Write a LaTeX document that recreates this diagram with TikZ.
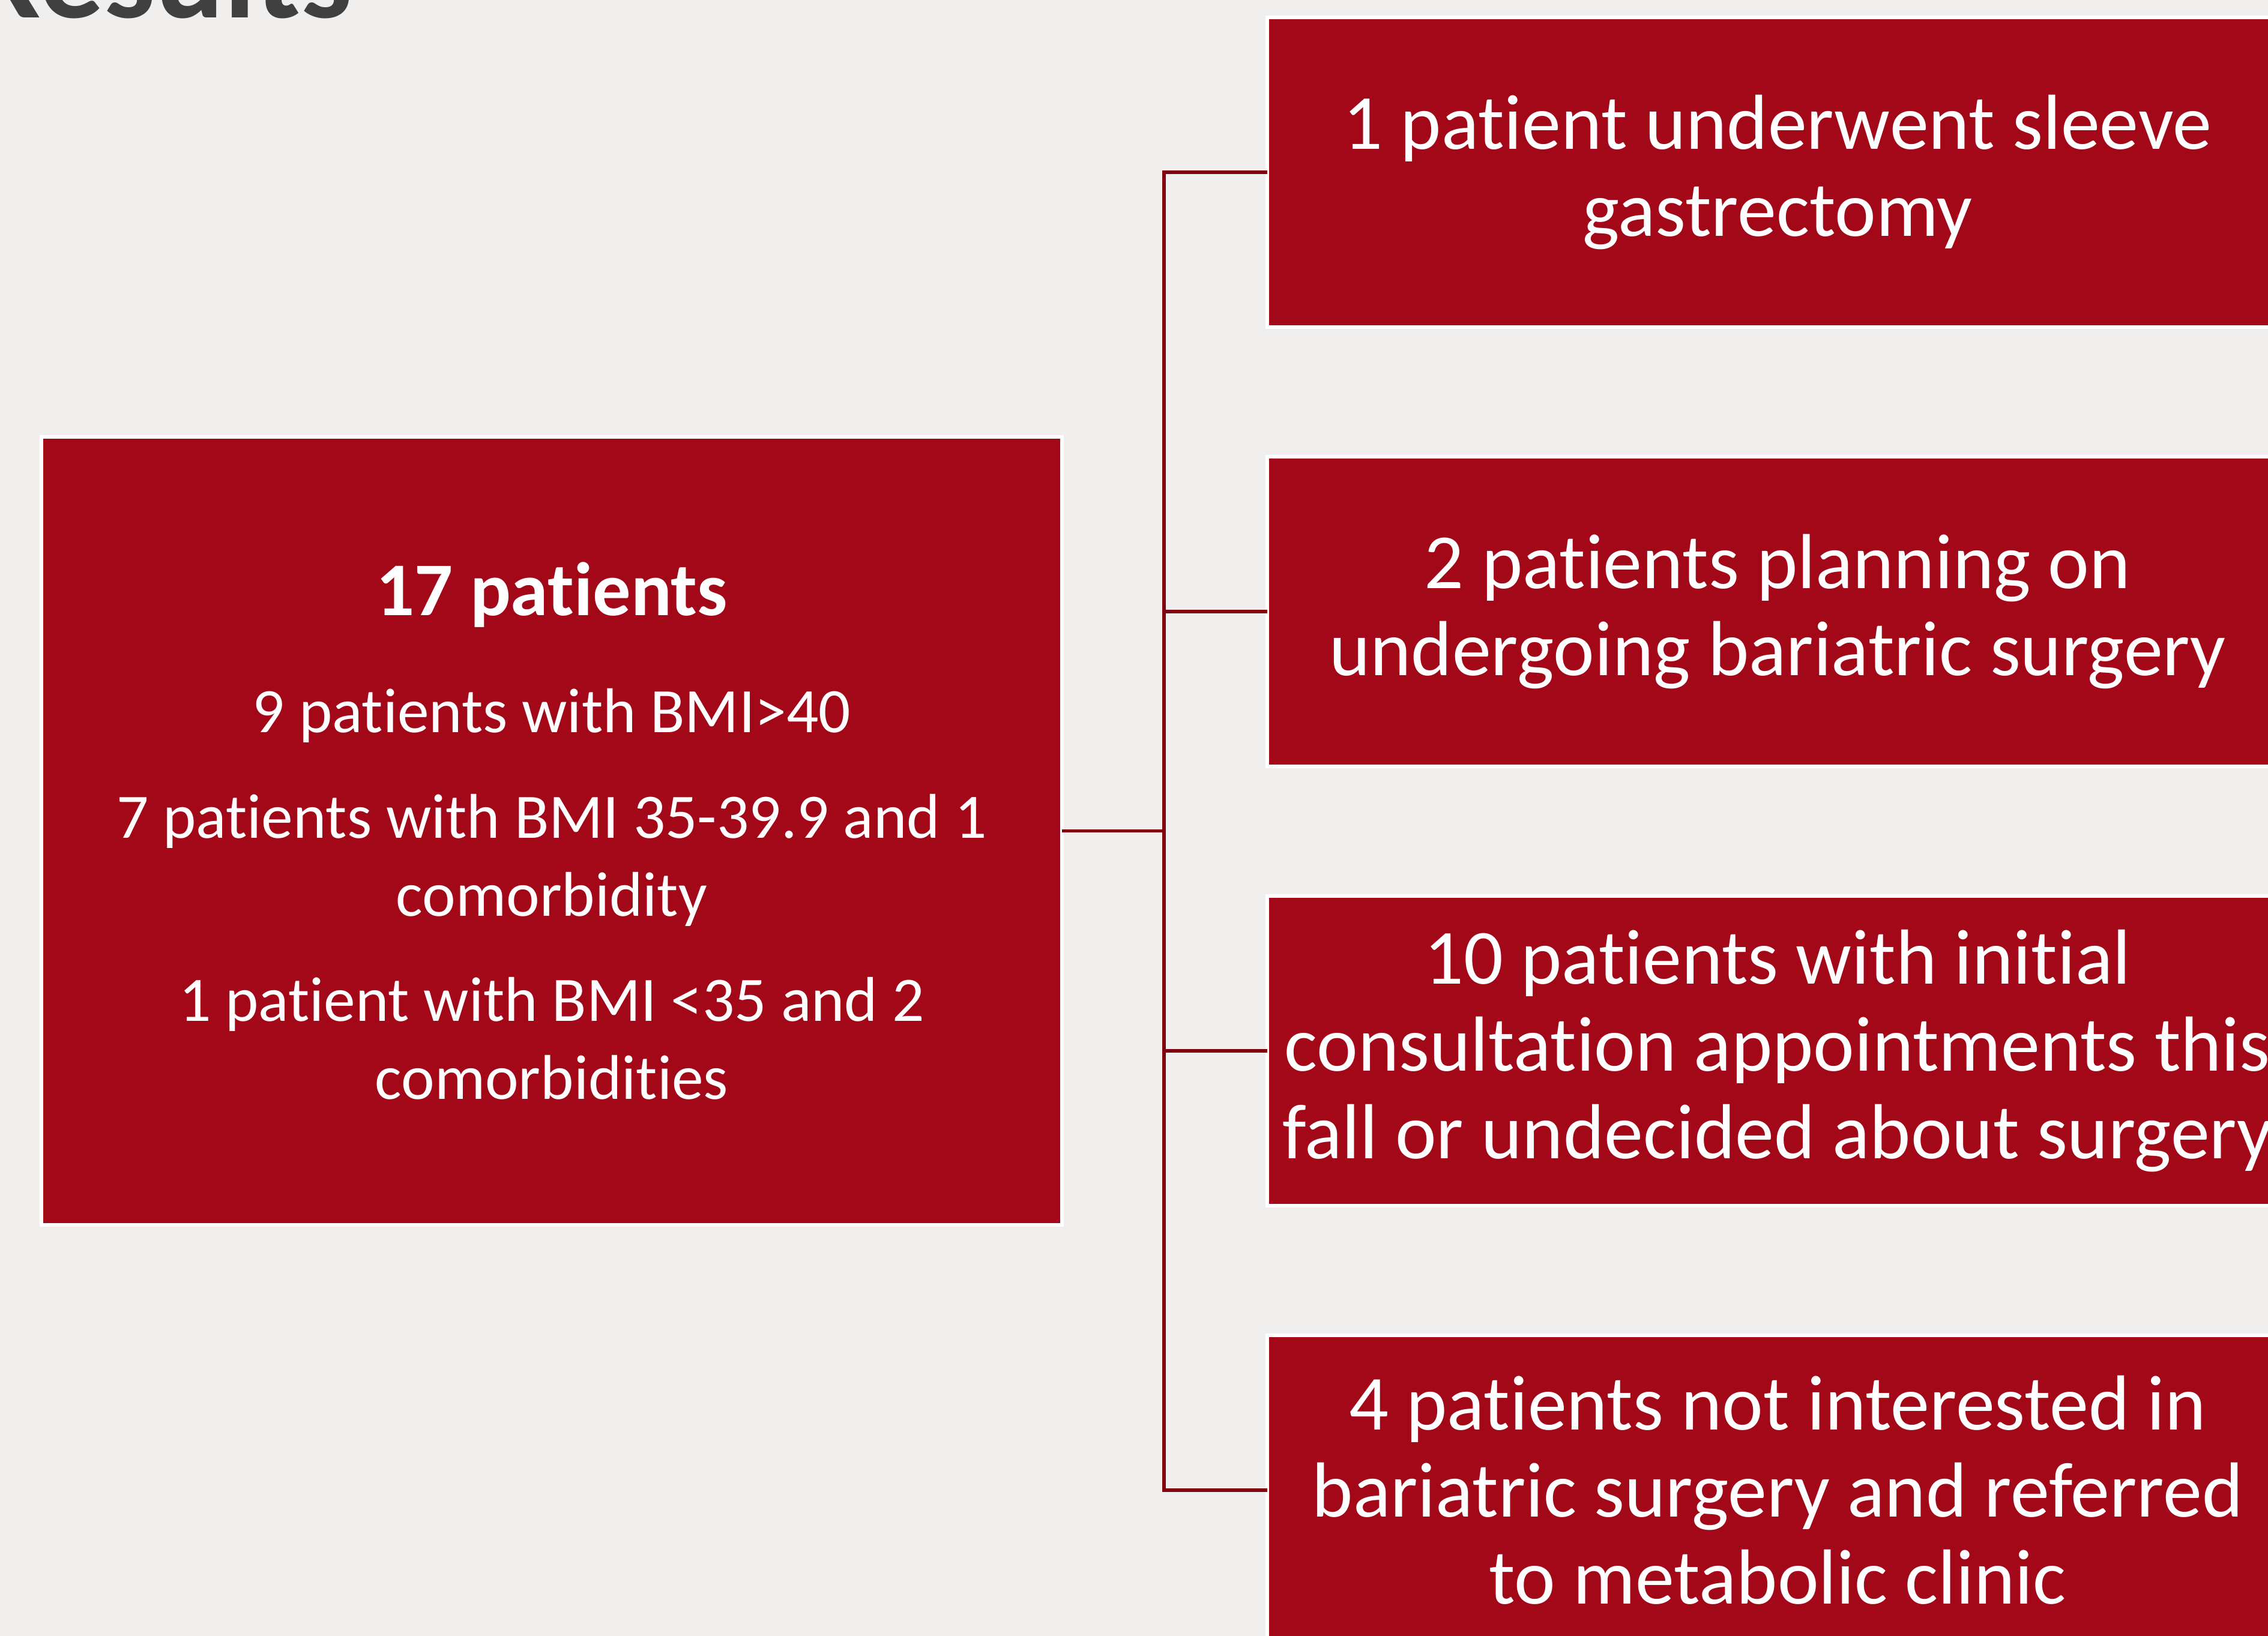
\documentclass[tikz,border=0pt]{standalone}
\usepackage{fontspec}
\setmainfont{Carlito}[RawFeature={-liga;-clig;-calt;-dlig}]
\usetikzlibrary{positioning, calc}

\definecolor{slidebg}{RGB}{240,239,237}
\definecolor{boxred}{RGB}{162,8,23}
\definecolor{linkred}{RGB}{128,0,16}
\definecolor{titlegray}{RGB}{64,64,64}

\begin{document}
\begin{tikzpicture}[
  node distance=2.16cm and 3.4cm,
  box/.style  ={draw=white, line width=1.5pt, fill=boxred, text=white,
                align=center, inner sep=0pt, outer sep=0pt},
  src/.style  ={box, minimum width=17cm, minimum height=13.13cm,
                font=\fontsize{30}{37}\selectfont},
  outc/.style ={box, minimum width=17cm, minimum height=5.16cm,
                font=\fontsize{37}{41.3}\selectfont},
  link/.style ={linkred, line width=1.6pt},
]
\useasboundingbox (0,0) rectangle (37.78,-27.26);
\fill[slidebg] (0,0) rectangle (37.78,-27.26);

% ================= slide title, cut by the top edge =================
\node[anchor=base west, inner sep=0pt, text=titlegray,
      font=\fontsize{61}{70}\selectfont\bfseries] (title) at (-0.53,-0.30) {Results};

% ================= left: the whole cohort =================
\node[src] (pts) at (9.19,-13.845) {%
  {\fontsize{36}{37}\selectfont\bfseries 17 patients}\\[18.5pt]
  9 patients with BMI>40\\[13pt]
  7 patients with BMI 35-39.9 and 1\\
  comorbidity\\[13pt]
  1 patient with BMI <35 and 2\\
  comorbidities};

% ================= right: outcomes =================
\node[outc, anchor=north west] (sleeve) at (21.11,-0.29)
  {1 patient underwent sleeve\\gastrectomy};
\node[outc, below=of sleeve] (plan)
  {2 patients planning on\\undergoing bariatric surgery};
\node[outc, below=of plan] (consult)
  {10 patients with initial\\consultation appointments this\\fall or undecided about surgery};
\node[outc, below=of consult] (refer)
  {4 patients not interested in\\bariatric surgery and referred\\to metabolic clinic};

% bracket from the cohort to each outcome
\coordinate[right=1.7cm of pts.east] (split);
\foreach \b in {sleeve, plan, consult, refer}{\draw[link] (pts.east) -- (split) |- (\b.west);}

\end{tikzpicture}
\end{document}
